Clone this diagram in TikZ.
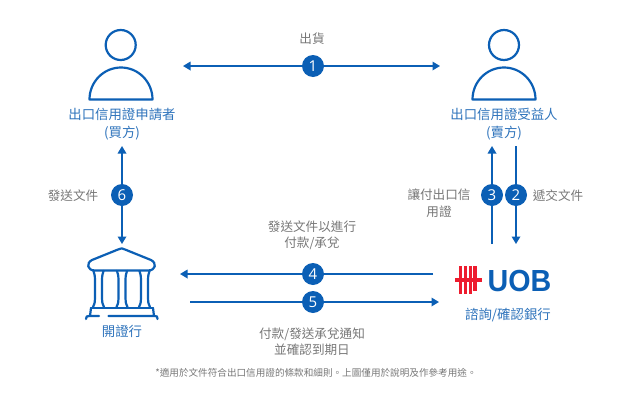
\documentclass[tikz,border=0pt]{standalone}
\usepackage{fontspec}
\setmainfont{Open Sans}
\newfontfamily\cjk{Noto Sans CJK TC}
\newfontfamily\logofont{Liberation Sans}
\usetikzlibrary{arrows.meta}
\definecolor{uobblue}{HTML}{0B5FB5}
\definecolor{labelblue}{HTML}{2F74BC}
\definecolor{labelgray}{HTML}{777777}
\definecolor{uobred}{HTML}{ED1C2E}
\tikzset{
  conn/.style={draw=uobblue,line width=1.7pt,-{Triangle[length=7.5pt,width=8.5pt]}},
  connboth/.style={draw=uobblue,line width=1.7pt,{Triangle[length=7.5pt,width=8.5pt]}-{Triangle[length=7.5pt,width=8.5pt]}},
  badge/.style={circle,fill=uobblue,text=white,minimum size=22pt,inner sep=0pt,font=\fontsize{15}{15}\selectfont},
  bluelabel/.style={text=labelblue,align=center,inner sep=0pt,font=\cjk\fontsize{13.4}{17.5}\selectfont},
  graylabel/.style={text=labelgray,align=center,inner sep=0pt,font=\cjk\fontsize{12.6}{16.5}\selectfont},
  notelabel/.style={text=labelgray,inner sep=0pt,font=\cjk\fontsize{9.6}{12}\selectfont},
  icon/.style={draw=uobblue,line width=2.2pt,line join=round,line cap=round},
  iconthin/.style={draw=uobblue,line width=2.2pt,line join=round,line cap=round},
  redbar/.style={fill=uobred,draw=none}
}
\begin{document}
\begin{tikzpicture}[x=1pt,y=-1pt]
\useasboundingbox (0,0) rectangle (630,410);
\fill[white] (0,0) rectangle (630,410);
% people
\draw[icon] (120.7,45) circle (15);
\draw[icon] (89.5,99.5) arc[start angle=180,end angle=360,x radius=31.5,y radius=32] -- cycle;
\draw[icon] (504,45) circle (15);
\draw[icon] (472.5,99.5) arc[start angle=180,end angle=360,x radius=31.5,y radius=32] -- cycle;
% bank
\draw[icon] (95,270.5) .. controls (87,270.5) and (86,263) .. (92,260) -- (118,249.5) .. controls (121,248) and (122.5,248) .. (125,249.5) -- (151,260) .. controls (157,263) and (156,270.5) .. (148,270.5) -- cycle;
\foreach \cx in {98.5,122,144.5}{
  \draw[iconthin] (\cx-5,271) .. controls (\cx-3.5,276) and (\cx-3.5,277) .. (\cx-3.5,280) -- (\cx-3.5,298) .. controls (\cx-3.5,301) and (\cx-3.5,303) .. (\cx-5.5,307);
  \draw[iconthin] (\cx+5,271) .. controls (\cx+3.5,276) and (\cx+3.5,277) .. (\cx+3.5,280) -- (\cx+3.5,298) .. controls (\cx+3.5,301) and (\cx+3.5,303) .. (\cx+5.5,307);
}
\draw[iconthin] (91,308) -- (153,308);
\draw[iconthin] (91,308) -- (90,316);
\draw[iconthin] (153,308) -- (154,316);
\draw[iconthin] (86,319) .. controls (86,316.5) and (87,316) .. (89,316) -- (99,316);
\draw[iconthin] (108.5,316) -- (155,316) .. controls (157,316) and (157.5,316.5) .. (157.5,319);
% logo
\foreach \bx/\ta/\tb in {458.8/266/293.5,463.8/266/293.5,468.8/266/293.5,473.4/266/290.5}{
  \fill[redbar] (\bx,\ta) rectangle ++(3.3,\tb-\ta);
}
\fill[redbar] (455,278) rectangle (482,282);
\node[inner sep=0pt,text=uobblue,xscale=.94] (uob) at (519.5,281) {\logofont\bfseries\fontsize{30.5}{30}\selectfont UOB};
% anchors for connectors
\coordinate (a1l) at (183,66); \coordinate (a1r) at (440,66);
\coordinate (a6t) at (122,146); \coordinate (a6b) at (122,244);
\coordinate (a3b) at (492,244); \coordinate (a3t) at (492,146);
\coordinate (a2t) at (516,146); \coordinate (a2b) at (516,244);
\coordinate (a4r) at (433,274); \coordinate (a4l) at (180,274);
\coordinate (a5l) at (190,302); \coordinate (a5r) at (439,302);
\draw[connboth] (a1l) -- (a1r);
\draw[connboth] (a6t) -- (a6b);
\draw[conn] (a3b) -- (a3t);
\draw[conn] (a2t) -- (a2b);
\draw[conn] (a4r) -- (a4l);
\draw[conn] (a5l) -- (a5r);
% badges
\node[badge] (n1) at (313,66) {1};
\node[badge] (n2) at (516,195) {2};
\node[badge] (n3) at (492,195) {3};
\node[badge] (n4) at (313,274) {4};
\node[badge] (n5) at (313,302) {5};
\node[badge] (n6) at (122,195) {6};
% labels
\node[bluelabel] (applicant) at (122,124) {出口信用證申請者\\(買方)};
\node[bluelabel] (beneficiary) at (504,124) {出口信用證受益人\\(賣方)};
\node[bluelabel] (issuing) at (122,331) {開證行};
\node[bluelabel] (confirm) at (508,315) {諮詢/確認銀行};
\node[graylabel] (l1) at (312,39) {出貨};
\node[graylabel] (l6) at (73,196) {發送文件};
\node[graylabel] (l2) at (558,195.5) {遞交文件};
\node[graylabel] (l3) at (439,203) {讓付出口信\\用證};
\node[graylabel] (l4) at (312,235.5) {發送文件以進行\\付款/承兌};
\node[graylabel] (l5) at (312,341.5) {付款/發送承兌通知\\並確認到期日};
\node[notelabel] (note) at (316,372.5) {*適用於文件符合出口信用證的條款和細則。上圖僅用於說明及作參考用途。};
\end{tikzpicture}
\end{document}
